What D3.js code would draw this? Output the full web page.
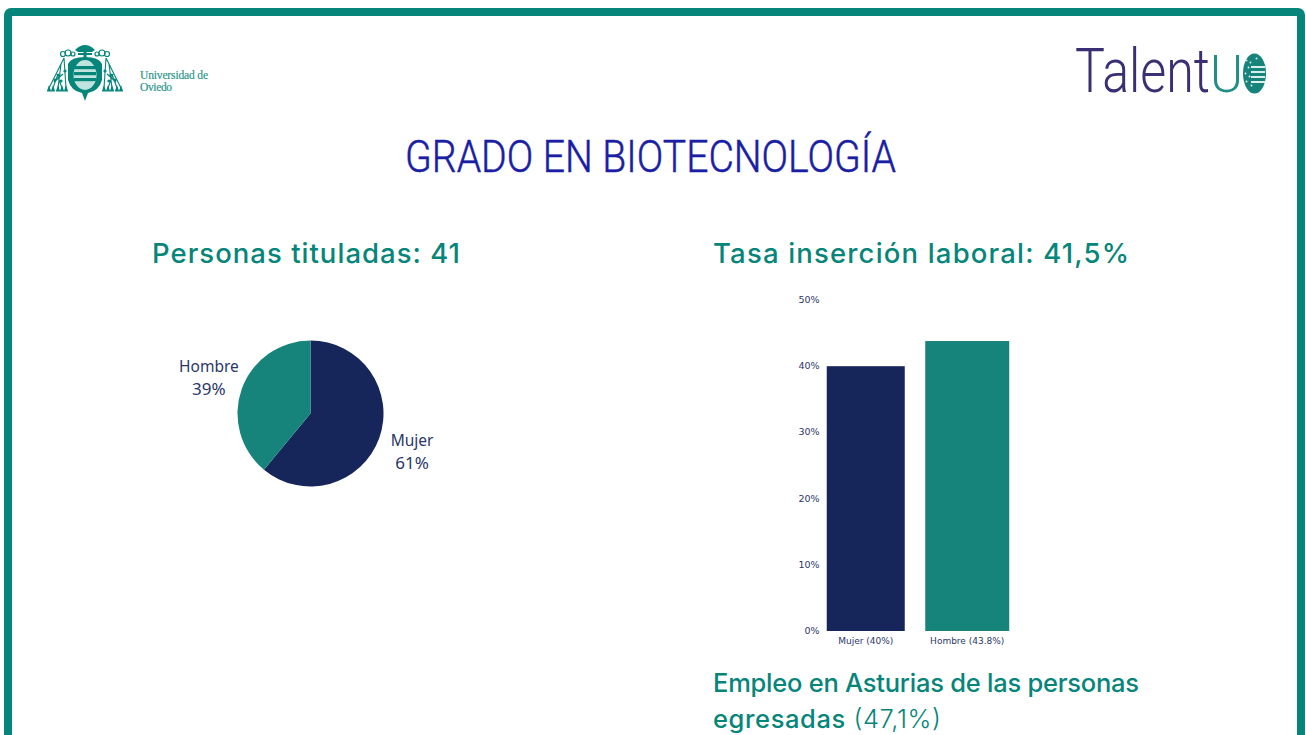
<!DOCTYPE html>
<html>
<head>
<meta charset="utf-8">
<script src="https://cdn.jsdelivr.net/npm/d3@7"></script>
<style>
  html, body { margin: 0; padding: 0; background: #fff; overflow: hidden; }
  text { font-family: "Noto Sans", sans-serif; }
</style>
</head>
<body>
<svg id="chart" width="1306" height="735"></svg>
<script>
// values
var pieLabels = ["Mujer", "Hombre"];
var pieValues = [61, 39];
var barLabels = ["Mujer (40%)", "Hombre (43.8%)"];
var barValues = [40, 43.8];
var yTicks = [0, 10, 20, 30, 40, 50];

var navy = "#16265a", teal = "#16847b", frame = "#06857a", textBlue = "#2a3768";

var svg = d3.select("#chart");

// page frame, runs off the bottom of the window
svg.append("rect")
  .attr("x", 8).attr("y", 12)
  .attr("width", 1293).attr("height", 800)
  .attr("rx", 3)
  .attr("fill", "none")
  .attr("stroke", frame)
  .attr("stroke-width", 8);

// Universidad de Oviedo logo, only a rough crest
var crest = svg.append("g")
  .attr("transform", "translate(85,72)")
  .attr("fill", frame)
  .attr("stroke", frame);

crest.append("path")   // hat
  .attr("d", "M-10,-22 Q0,-32 10,-22 L7,-20 L-7,-20 Z")
  .attr("stroke", "none");
crest.append("rect").attr("x", -7).attr("y", -19).attr("width", 14).attr("height", 2).attr("stroke", "none");
crest.append("rect").attr("x", -1.5).attr("y", -20).attr("width", 3).attr("height", 7).attr("stroke", "none");
[-1, 1].forEach(function(s) {
  // knots and cords going down either side
  crest.append("circle").attr("cx", s * 17).attr("cy", -19).attr("r", 3).attr("fill", "none").attr("stroke-width", 1.2);
  crest.append("circle").attr("cx", s * 12).attr("cy", -18).attr("r", 2).attr("fill", "none").attr("stroke-width", 1.2);
  crest.append("circle").attr("cx", s * 22).attr("cy", -18).attr("r", 2.5).attr("fill", "none").attr("stroke-width", 1.2);
  crest.append("path")
    .attr("d", "M" + s * 21 + ",-14 L" + s * 36 + ",16 M" + s * 24 + ",-8 L" + s * 27 + ",16 M" + s * 21 + ",-14 L" + s * 19 + ",16"
      + " M" + s * 27 + ",2 L" + s * 32 + ",16 M" + s * 28 + ",2 L" + s * 23 + ",16 M" + s * 22 + ",2 L" + s * 31 + ",10")
    .attr("fill", "none")
    .attr("stroke-width", 1.1);
  [19, 23, 27, 32, 36].forEach(function(t) {
    crest.append("path")
      .attr("d", "M" + s * (t - 2.2) + ",19.5 L" + s * t + ",13 L" + s * (t + 2.2) + ",19.5 Z")
      .attr("stroke", "none");
  });
  [[20, -1], [26, 3], [30, 8], [24, 9]].forEach(function(p) {
    crest.append("circle").attr("cx", s * p[0]).attr("cy", p[1]).attr("r", 1.6).attr("stroke", "none");
  });
});
crest.append("path")   // shield outline
  .attr("d", "M-17,-8 Q-14,-15 0,-15 Q14,-15 17,-8 L17,8 Q14,19 3,21 L0,29 L-3,21 Q-14,19 -17,8 Z")
  .attr("stroke", "none");
crest.append("ellipse").attr("rx", 11.5).attr("ry", 15).attr("cy", 3).attr("fill", "#bfe3df").attr("stroke", "none");
[-7, -1, 5].forEach(function(dy) {
  crest.append("rect").attr("x", -11).attr("y", 1 + dy).attr("width", 22).attr("height", 3.2).attr("stroke", "none");
});

svg.append("text").attr("x", 140).attr("y", 79)
  .style("font-family", "'Liberation Serif', serif").style("font-size", "11.5px")
  .attr("textLength", 68).attr("stroke", "#2b968c").attr("stroke-width", 0.2)
  .attr("fill", "#2b968c").text("Universidad de");
svg.append("text").attr("x", 140).attr("y", 91)
  .style("font-family", "'Liberation Serif', serif").style("font-size", "11.5px")
  .attr("textLength", 32).attr("stroke", "#2b968c").attr("stroke-width", 0.2)
  .attr("fill", "#2b968c").text("Oviedo");

// squeeze a logo word to a target width with a real transform
function logoWord(txt, x0, base, width, size, color) {
  var t = svg.append("text")
    .style("font-family", "Roboto, sans-serif").style("font-weight", 300)
    .style("font-size", size + "px")
    .attr("fill", color)
    .text(txt);
  var k = width / t.node().getComputedTextLength();
  t.attr("transform", "translate(" + x0 + "," + base + ") scale(" + k + ",1)");
}

// TalentUO logo
logoWord("Talent", 1075, 92, 135, 62, "#3b2f73");
logoWord("U", 1210, 92, 33, 52, "#1f8f86");
svg.append("ellipse").attr("cx", 1254.5).attr("cy", 73.5).attr("rx", 11.5).attr("ry", 20).attr("fill", "#16847b");
[-8, -3, 2, 7].forEach(function(dy) {
  svg.append("rect").attr("x", 1251).attr("y", 74 + dy).attr("width", 14).attr("height", 2).attr("fill", "#d9efec");
});
[[-8, -13], [-6, -6], [-4, -11], [-9, 0], [-5, 3], [-8, 8], [-3, 12], [2, -15]].forEach(function(p) {
  svg.append("circle").attr("cx", 1254.5 + p[0]).attr("cy", 73.5 + p[1]).attr("r", 1).attr("fill", "#d9efec");
});

// main title
svg.append("text")
  .attr("x", 405).attr("y", 172)
  .attr("textLength", 491).attr("lengthAdjust", "spacingAndGlyphs")
  .style("font-family", "Roboto, sans-serif")
  .style("font-weight", 300)
  .style("font-size", "44px")
  .attr("fill", "#1a1ea3")
  .attr("stroke", "#1a1ea3")
  .attr("stroke-width", 0.5)
  .text("GRADO EN BIOTECNOLOGÍA");

// section headings
function heading(x, y, len, size, txt, light) {
  var t = svg.append("text")
    .attr("x", x).attr("y", y)
    .attr("textLength", len).attr("lengthAdjust", "spacing")
    .style("font-family", "Inter, sans-serif")
    .style("font-size", size + "px")
    .style("font-weight", 500)
    .attr("fill", frame);
  t.append("tspan").text(txt);
  if (light) t.append("tspan").style("font-weight", 300).text(light);
}
heading(152, 263, 308, 27.5, "Personas tituladas: 41");
heading(713, 263, 416, 27.5, "Tasa inserción laboral: 41,5%");
heading(713, 692, 426, 25.5, "Empleo en Asturias de las personas");
heading(713, 728, 228, 25.5, "egresadas ", "(47,1%)");

// pie, Mujer starts at twelve o'clock going clockwise
var pieData = d3.pie().sort(null)(pieValues);
var arc = d3.arc().innerRadius(0).outerRadius(73);
var pieColor = d3.scaleOrdinal().domain(pieLabels).range([navy, teal]);
var pieG = svg.append("g").attr("transform", "translate(310.5,413.5)");

pieG.selectAll("path")
  .data(pieData)
  .enter()
  .append("path")
  .attr("d", arc)
  .attr("fill", function(d, i) { return pieColor(pieLabels[i]); });

var labelArc = d3.arc().innerRadius(108).outerRadius(108);
pieG.selectAll("g.lab")
  .data(pieData)
  .enter()
  .append("g")
  .attr("class", "lab")
  .attr("transform", function(d) {
    var c = labelArc.centroid(d);
    return "translate(" + c[0] + "," + c[1] + ")";
  })
  .each(function(d, i) {
    var g = d3.select(this);
    g.append("text").attr("text-anchor", "middle").attr("y", -4.5)
      .style("font-size", "15.5px").attr("fill", textBlue).text(pieLabels[i]);
    g.append("text").attr("text-anchor", "middle").attr("y", 18.5)
      .style("font-size", "17px").attr("fill", textBlue).text(pieValues[i] + "%");
  });

// bars
var x = d3.scaleBand().domain(barLabels).range([815, 1018]).paddingInner(0).paddingOuter(0);
var y = d3.scaleLinear().domain([0, 50]).range([631, 300]);
var barWidth = d3.scaleOrdinal().domain(barLabels).range([78, 84]);
var barColor = d3.scaleOrdinal().domain(barLabels).range([navy, teal]);

svg.selectAll("rect.bar")
  .data(barValues)
  .enter()
  .append("rect")
  .attr("class", "bar")
  .attr("x", function(d, i) { return x(barLabels[i]) + x.bandwidth() / 2 - barWidth(barLabels[i]) / 2; })
  .attr("y", function(d) { return y(d); })
  .attr("width", function(d, i) { return barWidth(barLabels[i]); })
  .attr("height", function(d) { return y(0) - y(d); })
  .attr("fill", function(d, i) { return barColor(barLabels[i]); });

var yAxis = d3.axisLeft(y).tickValues(yTicks).tickSize(0).tickPadding(0)
  .tickFormat(function(d) { return d + "%"; });
var yG = svg.append("g").attr("transform", "translate(819.5,-0.5)").call(yAxis);
yG.select(".domain").remove();
yG.selectAll("text").style("font-family", "'DejaVu Sans', sans-serif").style("font-size", "9.5px").attr("fill", textBlue);

var xAxis = d3.axisBottom(x).tickSize(0).tickPadding(6);
var xG = svg.append("g").attr("transform", "translate(0,632)").call(xAxis);
xG.select(".domain").remove();
xG.selectAll("text").style("font-family", "'DejaVu Sans', sans-serif").style("font-size", "9px").attr("fill", textBlue);
</script>
</body>
</html>
